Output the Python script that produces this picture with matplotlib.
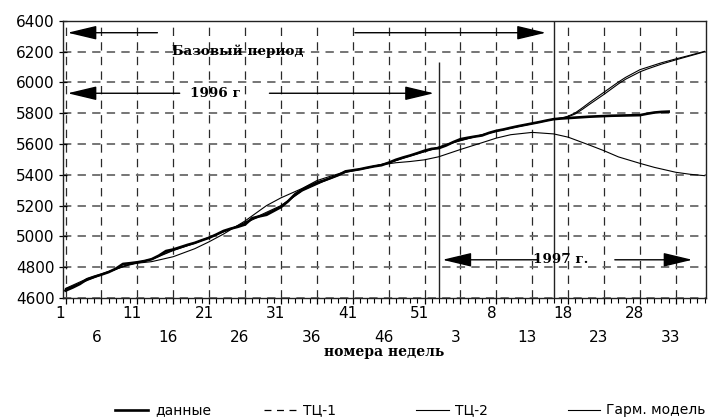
import numpy as np
import matplotlib
matplotlib.use('Agg')
import matplotlib.pyplot as plt
from matplotlib.lines import Line2D
from matplotlib.transforms import ScaledTranslation

plt.rcParams['lines.scale_dashes'] = False
plt.rcParams['font.family'] = ['DejaVu Sans']

# ---- data -------------------------------------------------------------
weeks = np.arange(1, 86)
data = [4648, 4668, 4691, 4722, 4738, 4752, 4768, 4790, 4821, 4826,
        4832, 4840, 4852, 4875, 4905, 4915, 4930, 4945, 4958, 4975,
        4991, 5012, 5035, 5050, 5062, 5077, 5118, 5130, 5140, 5165,
        5190, 5228, 5275, 5305, 5328, 5349, 5363, 5380, 5398, 5422,
        5429, 5436, 5446, 5455, 5462, 5478, 5497, 5512, 5525, 5540,
        5556, 5568, 5573, 5590, 5612, 5631, 5640, 5648, 5655, 5672,
        5685, 5694, 5705, 5715, 5724, 5733, 5742, 5752, 5761, 5765,
        5768, 5771, 5774, 5777, 5779, 5781, 5783, 5784, 5785, 5786,
        5787, 5796, 5804, 5808, 5810]

tc_weeks = [1, 4, 7, 10, 13, 16, 19, 22, 25, 28, 31, 34, 37, 40, 43, 46, 49,
            52, 55, 58, 61, 64, 67, 69, 70, 71, 72, 73, 74, 76, 78, 79, 81,
            82, 84, 86, 88, 90]
tc1 = [4655, 4718, 4770, 4818, 4853, 4912, 4958, 5012, 5065, 5128, 5195,
       5300, 5362, 5418, 5446, 5478, 5525, 5566, 5610, 5648, 5684, 5714,
       5742, 5761, 5768, 5780, 5802, 5835, 5870, 5936, 6002, 6032, 6082,
       6097, 6127, 6152, 6176, 6201]
tc2 = [4662, 4725, 4772, 4822, 4850, 4908, 4955, 5010, 5070, 5135, 5200,
       5295, 5358, 5415, 5444, 5476, 5522, 5563, 5608, 5646, 5682, 5712,
       5741, 5761, 5767, 5776, 5795, 5825, 5858, 5922, 5990, 6020, 6068,
       6086, 6118, 6146, 6172, 6198]

harm_weeks = [1, 3, 6, 9, 11, 13, 16, 19, 21, 23, 26, 29, 31, 34, 36, 38, 40,
              43, 45, 47, 49, 51, 53, 56, 59, 61, 63, 66, 69, 71, 74, 76, 78,
              81, 83, 86, 88, 90]
harm = [4660, 4695, 4750, 4805, 4826, 4836, 4868, 4920, 4965, 5015, 5100,
        5200, 5250, 5312, 5362, 5392, 5420, 5445, 5465, 5478, 5486, 5497,
        5517, 5564, 5608, 5638, 5660, 5675, 5665, 5644, 5592, 5556, 5516,
        5474, 5448, 5416, 5403, 5394]

tick_weeks = list(range(1, 87, 5))
tick_labels = ['1', '6', '11', '16', '21', '26', '31', '36', '41', '46', '51',
               '3', '8', '13', '18', '23', '28', '33']
y_ticks = list(range(4600, 6401, 200))

series_names = ['данные', 'ТЦ-1', 'ТЦ-2', 'Гарм. модель']

base_end_week = 53
forecast_start_week = 69

# ---- figure -----------------------------------------------------------
W, H = 711, 419
fig = plt.figure(figsize=(W / 100, H / 100), dpi=100)
ax = fig.add_axes([63 / W, 1 - 298 / H, 643 / W, 277.3 / H])
ax.set_xlim(0.65, 90.2)
ax.set_ylim(4600, 6400)

# grid
ax.set_xticks(tick_weeks)
ax.set_xticks(range(1, 91), minor=True)
ax.set_yticks(y_ticks)
ax.yaxis.grid(True, color='#6a6a6a', lw=1.3, linestyle=(0, (6, 4.5)), zorder=0)
ax.xaxis.grid(True, which='major', color='#2a2a2a', lw=0.9,
              linestyle=(0, (6, 4.5)), zorder=0)
ax.set_axisbelow(True)

# series
ax.plot(tc_weeks, tc1, color='black', lw=0.8, zorder=3)
ax.plot(tc_weeks, tc2, color='black', lw=0.8, zorder=3)
ax.plot(harm_weeks, harm, color='black', lw=0.8, zorder=3)
ax.plot(weeks, data, color='black', lw=1.9, zorder=4)

# period separators
ax.vlines(base_end_week, 4600, 6130, color='#222222', lw=1.0, zorder=2)
ax.axvline(forecast_start_week, color='#222222', lw=1.0, zorder=2)

# arrows and period labels
def arrow(x_tail, x_tip, y):
    ax.annotate('', xy=(x_tip, y), xytext=(x_tail, y),
                arrowprops=dict(arrowstyle='-|>,head_length=18,head_width=4.3',
                                mutation_scale=1, lw=1.0, color='black',
                                shrinkA=0, shrinkB=0), zorder=5)

arrow(13.8, 1.3, 6322)
arrow(41.3, 67.9, 6322)
arrow(16.9, 1.3, 5929)
arrow(29.4, 52.3, 5929)
arrow(66.8, 53.5, 4848)
arrow(77.5, 88.3, 4848)

serif = dict(fontfamily='DejaVu Serif', fontweight='bold', fontsize=9.7,
             ha='center', va='center', zorder=6)
ax.text(25.0, 6203, 'Базовый период', **serif)
ax.text(21.9, 5929, '1996 г', **serif)
ax.text(70.0, 4848, '1997 г.', **serif)

# ticks
ax.tick_params(axis='y', which='major', direction='inout', length=6,
               width=0.9, labelsize=11, pad=3)
ax.tick_params(axis='x', which='major', direction='out', length=4,
               width=0.9, labelsize=11, pad=2)
ax.tick_params(axis='x', which='minor', direction='out', length=3.8,
               width=0.8)
ax.set_xticklabels([lab if k % 2 == 0 else '\n' + lab
                    for k, lab in enumerate(tick_labels)])
shift = ScaledTranslation(-5 / 100, 0, fig.dpi_scale_trans)
for lab in ax.get_xticklabels():
    lab.set_linespacing(1.75)
    lab.set_transform(lab.get_transform() + shift)

for sp in ax.spines.values():
    sp.set_linewidth(1.0)
    sp.set_color('#222222')

ax.set_xlabel('номера недель', fontfamily='DejaVu Serif', fontweight='bold',
              fontsize=10, labelpad=0)

# legend (manual row at the bottom)
leg_y = 1 - 410 / H
leg = [((115, 148), 1.9, '-', 155),
       ((264, 297), 0.9, (0, (5, 4)), 303),
       ((416, 449), 0.8, '-', 455),
       ((568, 600), 0.8, '-', 606)]
for name, ((x0, x1), lw, ls, tx) in zip(series_names, leg):
    fig.add_artist(Line2D([x0 / W, x1 / W], [leg_y, leg_y], color='black',
                          lw=lw, linestyle=ls, transform=fig.transFigure))
    fig.text(tx / W, leg_y, name, fontsize=10, ha='left', va='center')

fig.savefig('out.png', dpi=100)
